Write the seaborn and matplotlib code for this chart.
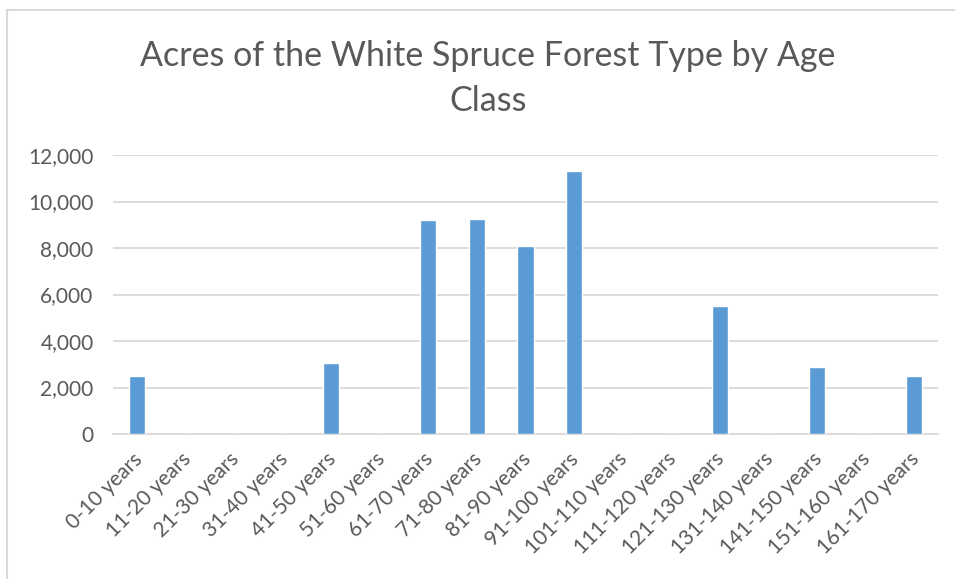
import matplotlib
matplotlib.use("Agg")
import matplotlib.pyplot as plt
import matplotlib.transforms as mtransforms
from matplotlib.patches import Rectangle
from matplotlib.ticker import FuncFormatter
import pandas as pd
import seaborn as sns

# Age classes and acres
age_classes = ['0-10 years', '11-20 years', '21-30 years', '31-40 years', '41-50 years',
               '51-60 years', '61-70 years', '71-80 years', '81-90 years', '91-100 years',
               '101-110 years', '111-120 years', '121-130 years', '131-140 years',
               '141-150 years', '151-160 years', '161-170 years']
acres = [2510, 0, 0, 0, 3070, 0, 9190, 9230, 8090, 11320, 0, 0, 5490, 0, 2890, 0, 2510]
y_ticks = [0, 2000, 4000, 6000, 8000, 10000, 12000]

df = pd.DataFrame({'age_class': age_classes, 'acres': acres})

sns.set_style('white')
plt.rcParams['font.family'] = ['Lato', 'DejaVu Sans']

text_color = '#595959'
grid_color = '#d9d9d9'

fig = plt.figure(figsize=(9.55, 5.79), dpi=100)
ax = fig.add_axes([113 / 955, 1 - 434 / 579, (938 - 113) / 955, (434 - 155) / 579])

sns.barplot(data=df, x='age_class', y='acres', color='#5B9BD5', saturation=1,
            width=0.33, ax=ax, zorder=3)

ax.set_ylim(0, 12000)
ax.set_yticks(y_ticks)
ax.yaxis.set_major_formatter(FuncFormatter(lambda v, p: f'{int(v):,}'))
ax.grid(axis='y', color=grid_color, linewidth=1.3, zorder=0)
ax.set_axisbelow(True)
for s in ['top', 'right', 'left']:
    ax.spines[s].set_visible(False)
ax.spines['bottom'].set_color(grid_color)
ax.spines['bottom'].set_linewidth(1.3)
ax.set_xlabel('')
ax.set_ylabel('')
ax.tick_params(axis='both', length=0, colors=text_color, labelsize=15)
ax.tick_params(axis='y', pad=14)
ax.tick_params(axis='x', pad=16)

offset = mtransforms.ScaledTranslation(2 / 100, 0, fig.dpi_scale_trans)
for lbl in ax.get_xticklabels():
    lbl.set_rotation(45)
    lbl.set_ha('right')
    lbl.set_va('center')
    lbl.set_rotation_mode('anchor')
    lbl.set_transform(lbl.get_transform() + offset)

fig.text(488 / 955, 1 - 56 / 579, 'Acres of the White Spruce Forest Type by Age',
         ha='center', va='center', fontsize=24.5, color=text_color)
fig.text(488 / 955, 1 - 101 / 579, 'Class', ha='center', va='center',
         fontsize=24.5, color=text_color)

# chart area border
fig.patches.append(Rectangle((7 / 955, -0.1), 1.1, 1 - 10 / 579 + 0.1,
                             transform=fig.transFigure, fill=False,
                             edgecolor=grid_color, linewidth=1.5))

fig.savefig('out.png', dpi=100)
